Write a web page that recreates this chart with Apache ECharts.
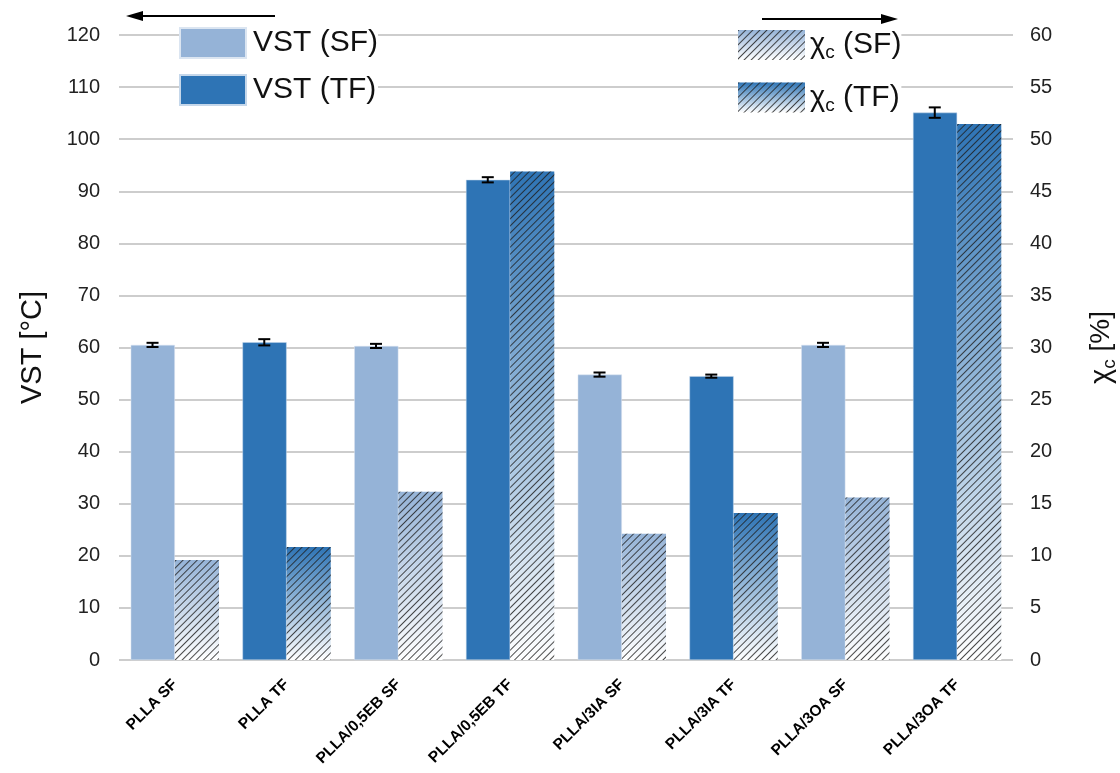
<!DOCTYPE html>
<html>
<head>
<meta charset="utf-8">
<script src="https://cdn.jsdelivr.net/npm/echarts@6/dist/echarts.min.js"></script>
<style>
  html, body { margin: 0; padding: 0; background: #fff; }
  #chart { width: 1120px; height: 773px; }
</style>
</head>
<body>
<div id="chart"></div>
<script>
// sample names (SF / TF processing)
const categories = ['PLLA SF', 'PLLA TF', 'PLLA/0,5EB SF', 'PLLA/0,5EB TF', 'PLLA/3IA SF', 'PLLA/3IA TF', 'PLLA/3OA SF', 'PLLA/3OA TF']
// VST [°C] with its error
const vstValues = [60.5, 61.0, 60.3, 92.2, 54.8, 54.5, 60.5, 105.1]
const vstErrors = [0.4, 0.6, 0.4, 0.5, 0.4, 0.3, 0.4, 1.0]
// crystallinity chi_c [%]
const crystValues = [9.6, 10.85, 16.15, 46.9, 12.13, 14.12, 15.6, 51.45]

const isTF = i => /TF$/.test(categories[i])

const lightBlue = '#95b3d7'
const darkBlue = '#2e74b5'

const hatch = {
  symbol: 'rect',
  symbolSize: 1,
  color: 'rgba(30,30,30,0.8)',
  dashArrayX: [1, 0],
  dashArrayY: [1, 3.6],
  rotation: -Math.PI / 4
}

function fade(top) {
  return new echarts.graphic.LinearGradient(0, 0, 0, 1, [
    { offset: 0, color: top },
    { offset: 1, color: '#ffffff' }
  ])
}

const chart = echarts.init(document.getElementById('chart'))

const textRich = {
  g: { fontSize: 29, color: '#111', fontFamily: 'Liberation Sans' },
  s: { fontSize: 19, padding: [16, 0, 0, 0], fontFamily: 'Liberation Sans', color: '#111' }
}

chart.setOption({
  animation: false,
  textStyle: { fontFamily: 'Liberation Sans' },
  grid: { left: 119, right: 107, top: 35, bottom: 113, outerBoundsMode: 'none' },
  legend: [
    {
      data: ['VST (SF)', 'VST (TF)'],
      orient: 'vertical',
      left: 179, top: 27,
      itemWidth: 66, itemHeight: 30, itemGap: 15,
      icon: 'rect',
      padding: 0,
      backgroundColor: '#fff',
      textStyle: { fontSize: 30, color: '#111', padding: [0, 0, 0, 2] }
    },
    {
      data: ['χc (SF)', 'χc (TF)'],
      orient: 'vertical',
      left: 738, top: 30,
      itemWidth: 67, itemHeight: 30, itemGap: 20,
      icon: 'rect',
      padding: 0,
      backgroundColor: '#fff',
      formatter: name => '{g|χ}{s|c}' + name.slice(2),
      textStyle: { fontSize: 30, color: '#111', rich: textRich }
    }
  ],
  xAxis: {
    type: 'category',
    data: categories,
    axisLine: { show: false },
    axisTick: { show: false },
    axisLabel: { interval: 0, rotate: 45, fontSize: 15.5, fontWeight: 'bold', color: '#000', margin: 22 }
  },
  yAxis: [
    {
      type: 'value', min: 0, max: 120, interval: 10,
      name: 'VST [°C]', nameLocation: 'middle', nameGap: 72, nameRotate: 90,
      nameTextStyle: { fontSize: 29, color: '#111' },
      axisLabel: { fontSize: 20, color: '#222', margin: 19 },
      axisLine: { show: false }, axisTick: { show: false },
      splitLine: { lineStyle: { color: '#bdbdbd', width: 1.5 } }
    },
    {
      type: 'value', min: 0, max: 60, interval: 5,
      name: '{g|χ}{s|c} [%]', nameLocation: 'middle', nameGap: 71, nameRotate: 90,
      nameTextStyle: { fontSize: 28, color: '#111', rich: textRich },
      axisLabel: { fontSize: 20, color: '#222', margin: 17 },
      axisLine: { show: false }, axisTick: { show: false },
      splitLine: { show: false }
    }
  ],
  series: [
    {
      name: 'VST (SF)', type: 'bar', stack: 'vst', yAxisIndex: 0,
      barGap: 0, barCategoryGap: '21%',
      itemStyle: { color: lightBlue, borderColor: '#dbe5f1', borderWidth: 0.5 },
      data: vstValues.map((v, i) => isTF(i) ? '-' : v)
    },
    {
      name: 'VST (TF)', type: 'bar', stack: 'vst', yAxisIndex: 0,
      itemStyle: { color: darkBlue, borderColor: '#c5d7ea', borderWidth: 0.5 },
      data: vstValues.map((v, i) => isTF(i) ? v : '-')
    },
    {
      name: 'χc (SF)', type: 'bar', stack: 'cryst', yAxisIndex: 1,
      itemStyle: { color: fade(lightBlue), decal: hatch },
      data: crystValues.map((v, i) => isTF(i) ? '-' : v)
    },
    {
      name: 'χc (TF)', type: 'bar', stack: 'cryst', yAxisIndex: 1,
      itemStyle: { color: fade(darkBlue), decal: hatch },
      data: crystValues.map((v, i) => isTF(i) ? v : '-')
    },
    {
      // error bars on the VST bars (first bar in each pair)
      type: 'custom', yAxisIndex: 0, z: 10,
      data: vstValues.map((v, i) => [i, v, vstErrors[i]]),
      renderItem: function (params, api) {
        const i = api.value(0)
        const v = api.value(1)
        const e = api.value(2)
        const w = api.size([1, 0])[0]
        const cx = api.coord([i, v])[0] - w * 0.2
        const y1 = api.coord([i, v + e])[1]
        const y2 = api.coord([i, v - e])[1]
        const half = 6
        const st = { stroke: '#000', lineWidth: 2 }
        return {
          type: 'group',
          children: [
            { type: 'line', shape: { x1: cx, y1: y1, x2: cx, y2: y2 }, style: st },
            { type: 'line', shape: { x1: cx - half, y1: y1, x2: cx + half, y2: y1 }, style: st },
            { type: 'line', shape: { x1: cx - half, y1: y2, x2: cx + half, y2: y2 }, style: st }
          ]
        }
      }
    }
  ],
  graphic: [
    { type: 'line', shape: { x1: 140, y1: 16, x2: 275, y2: 16 }, style: { stroke: '#000', lineWidth: 2 } },
    { type: 'polygon', shape: { points: [[126, 16], [143, 11], [143, 21]] }, style: { fill: '#000' } },
    { type: 'line', shape: { x1: 762, y1: 19, x2: 884, y2: 19 }, style: { stroke: '#000', lineWidth: 2 } },
    { type: 'polygon', shape: { points: [[898, 19], [881, 14], [881, 24]] }, style: { fill: '#000' } }
  ]
})
</script>
</body>
</html>
